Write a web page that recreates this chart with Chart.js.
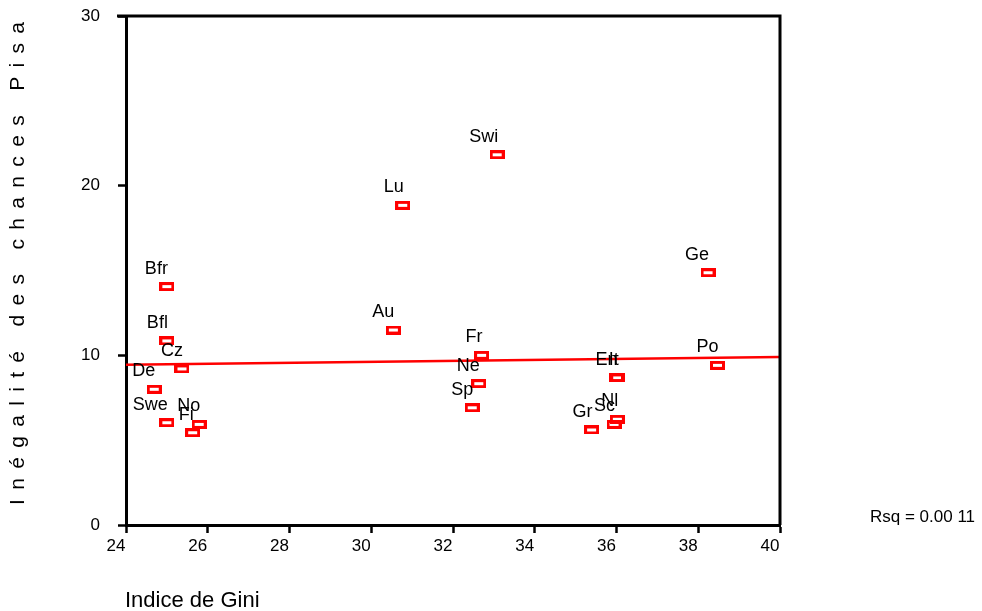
<!DOCTYPE html>
<html>
<head>
<meta charset="utf-8">
<script src="https://cdn.jsdelivr.net/npm/chart.js@4.4.0/dist/chart.umd.min.js"></script>
<style>
  html, body { margin: 0; padding: 0; background: #fff; }
</style>
</head>
<body>
<canvas id="giniChart" width="982" height="611"></canvas>
<script>
// values
const countries = ["Bfr", "Bfl", "Cz", "De", "Swe", "No", "Fi", "Au", "Lu", "Swi",
                   "Fr", "Ne", "Sp", "Gr", "Sc", "Nl", "En", "It", "Ge", "Po"];
const gini = [25.0, 25.0, 25.37, 24.69, 25.0, 25.79, 25.63, 30.54, 30.77, 33.08,
              32.70, 32.63, 32.47, 35.39, 35.94, 36.02, 36.0, 36.03, 38.24, 38.47];
const pisa = [14.05, 10.85, 9.2, 8.0, 6.03, 5.93, 5.44, 11.49, 18.84, 21.82,
              10.0, 8.33, 6.91, 5.6, 5.93, 6.23, 8.68, 8.68, 14.87, 9.41];
const fitX = [24, 40];
const fitY = [9.45, 9.9];
const xTitle = "Indice de Gini";
const yTitle = "Inégalité des chances Pisa";
const rsqText = "Rsq = 0.00 11";

const FONT = '"Liberation Sans", Arial, Helvetica, sans-serif';

// hollow red rectangle used as the marker
const marker = document.createElement("canvas");
marker.width = 15;
marker.height = 9;
const mctx = marker.getContext("2d");
mctx.strokeStyle = "#ff0000";
mctx.lineWidth = 3;
mctx.strokeRect(1.5, 1.5, 12, 6);

const extras = {
  id: "extras",
  afterDatasetsDraw(chart) {
    const { ctx, chartArea, scales } = chart;
    ctx.save();
    // top and right side of the frame
    ctx.strokeStyle = "#000";
    ctx.lineWidth = 3;
    ctx.beginPath();
    ctx.moveTo(chartArea.left - 9, chartArea.top);
    ctx.lineTo(chartArea.right, chartArea.top);
    ctx.lineTo(chartArea.right, chartArea.bottom);
    ctx.stroke();

    // country labels
    ctx.fillStyle = "#000";
    ctx.font = "18px " + FONT;
    ctx.textAlign = "right";
    ctx.textBaseline = "middle";
    countries.forEach((c, i) => {
      const px = scales.x.getPixelForValue(gini[i]);
      const py = scales.y.getPixelForValue(pisa[i]);
      ctx.fillText(c, px + 1, py - 18);
    });

    // x title and Rsq
    ctx.textAlign = "left";
    ctx.font = "22px " + FONT;
    ctx.fillText(xTitle, chartArea.left - 1, 601);
    ctx.font = "17px " + FONT;
    ctx.fillText(rsqText, 870, 517);

    // spaced-out y title
    ctx.translate(18, 505);
    ctx.rotate(-Math.PI / 2);
    ctx.font = "21px " + FONT;
    const w0 = ctx.measureText(yTitle).width;
    const gap = (483 - w0) / (yTitle.length - 1);
    ctx.letterSpacing = gap + "px";
    ctx.fillText(yTitle, 0, 0);
    ctx.restore();
  }
};

const ctx = document.getElementById("giniChart").getContext("2d");
new Chart(ctx, {
  type: "scatter",
  data: {
    datasets: [
      {
        label: "pays",
        data: gini.map((g, i) => ({ x: g, y: pisa[i] })),
        pointStyle: marker,
        pointRadius: 5,
        order: 0,
      },
      {
        type: "line",
        label: "fit",
        data: fitX.map((x, i) => ({ x: x, y: fitY[i] })),
        borderColor: "#ff0000",
        borderWidth: 2.5,
        pointRadius: 0,
        fill: false,
        order: 1,
      },
    ],
  },
  options: {
    responsive: false,
    animation: false,
    layout: { padding: { top: 16, right: 202, left: 0, bottom: 0 } },
    plugins: { legend: { display: false }, tooltip: { enabled: false } },
    scales: {
      x: {
        type: "linear",
        min: 24,
        max: 40,
        afterFit(scale) { scale.height = 86; scale.paddingLeft = 0; scale.paddingRight = 0; },
        border: { color: "#000", width: 3 },
        grid: { drawOnChartArea: false, tickLength: 8, tickColor: "#000", tickWidth: 2.5 },
        ticks: { stepSize: 2, color: "#000", font: { family: FONT, size: 17 }, padding: 3, labelOffset: -10, maxRotation: 0 },
      },
      y: {
        min: 0,
        max: 30,
        afterFit(scale) { scale.width = 126; scale.paddingTop = 0; scale.paddingBottom = 0; },
        border: { color: "#000", width: 3 },
        grid: { drawOnChartArea: false, tickLength: 8, tickColor: "#000", tickWidth: 2.5 },
        ticks: { stepSize: 10, color: "#000", font: { family: FONT, size: 17 }, padding: 18 },
      },
    },
  },
  plugins: [extras],
});
</script>
</body>
</html>
